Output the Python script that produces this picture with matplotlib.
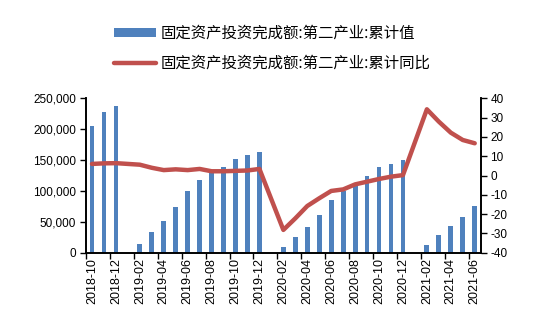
import matplotlib
matplotlib.use("Agg")
import matplotlib.pyplot as plt
import numpy as np
from matplotlib.ticker import FuncFormatter, FixedLocator

plt.rcParams['font.family'] = ['Liberation Sans', 'Noto Sans CJK SC', 'DejaVu Sans']
plt.rcParams['axes.unicode_minus'] = False

months = ["2018-10", "2018-11", "2018-12",
          "2019-01", "2019-02", "2019-03", "2019-04", "2019-05", "2019-06",
          "2019-07", "2019-08", "2019-09", "2019-10", "2019-11", "2019-12",
          "2020-01", "2020-02", "2020-03", "2020-04", "2020-05", "2020-06",
          "2020-07", "2020-08", "2020-09", "2020-10", "2020-11", "2020-12",
          "2021-01", "2021-02", "2021-03", "2021-04", "2021-05", "2021-06"]

# cumulative value (100 million yuan), January not published
cum_value = [204500, 228300, 238000,
             np.nan, 14000, 34000, 51300, 73500, 100400,
             117900, 132800, 139000, 151900, 158200, 163200,
             np.nan, 8700, 24900, 41100, 60300, 85300,
             99800, 109600, 125000, 139000, 144100, 149600,
             np.nan, 12000, 28200, 43200, 58300, 76100]

# cumulative y/y growth (%)
cum_yoy = [6.0, 6.3, 6.4,
           np.nan, 5.6, 4.0, 2.8, 3.2, 2.8,
           3.4, 2.2, 2.2, 2.4, 2.6, 3.4,
           np.nan, -28.2, -22.2, -15.8, -11.8, -8.0,
           -7.2, -4.6, -3.2, -1.8, -0.6, 0.2,
           np.nan, 34.3, 27.9, 22.2, 18.4, 16.7]

label_bar = "固定资产投资完成额:第二产业:累计值"
label_line = "固定资产投资完成额:第二产业:累计同比"

bar_color = "#4F81BD"
line_color = "#C0504D"

x = np.arange(len(months))
vals = np.array(cum_value, dtype=float)
yoy = np.array(cum_yoy, dtype=float)
ok = ~np.isnan(yoy)

fig = plt.figure(figsize=(5.5, 3.22), dpi=100)
ax = fig.add_axes([0.1564, 0.2152, 0.7176, 0.4795])
ax2 = ax.twinx()

bars = ax.bar(x, np.nan_to_num(vals), width=0.4, color=bar_color, zorder=2)
line, = ax2.plot(x[ok], yoy[ok], color=line_color, lw=3.2,
                 solid_joinstyle="round", solid_capstyle="round", zorder=3)

ax.set_xlim(-0.5, len(months) - 0.5)
ax.set_ylim(0, 250000)
ax.set_yticks(np.arange(0, 250001, 50000))
ax.yaxis.set_major_formatter(FuncFormatter(lambda v, p: f"{int(v):,}"))
ax2.set_ylim(-40, 40)
ax2.set_yticks(np.arange(-40, 41, 10))

# labels every second month, tick marks on category boundaries
ax.set_xticks(x[::2])
ax.set_xticklabels(months[::2], rotation=90)
ax.xaxis.set_minor_locator(FixedLocator(np.arange(-0.5, len(months), 2)))
ax.tick_params(axis="x", which="major", length=0, pad=4, labelsize=9)
ax.tick_params(axis="x", which="minor", length=4, width=1, direction="out")
ax.tick_params(axis="y", length=4, width=1, direction="out", labelsize=8.5, pad=3)
ax2.tick_params(axis="y", length=4, width=1, direction="out", labelsize=8.5, pad=3)

for a in (ax, ax2):
    a.spines["top"].set_visible(False)
    for s in ("left", "right", "bottom"):
        a.spines[s].set_linewidth(1.2)
        a.spines[s].set_color("black")

fig.legend([bars, line], [label_bar, label_line],
           loc="upper left", bbox_to_anchor=(114 / 550, 1 - 25 / 322),
           frameon=False, borderpad=0, borderaxespad=0,
           handlelength=2.7, handleheight=0.45, handletextpad=0.3,
           labelspacing=0.85,
           prop={"family": ["Noto Sans CJK SC", "DejaVu Sans"], "size": 11.1})

fig.savefig("out.png", dpi=100)
